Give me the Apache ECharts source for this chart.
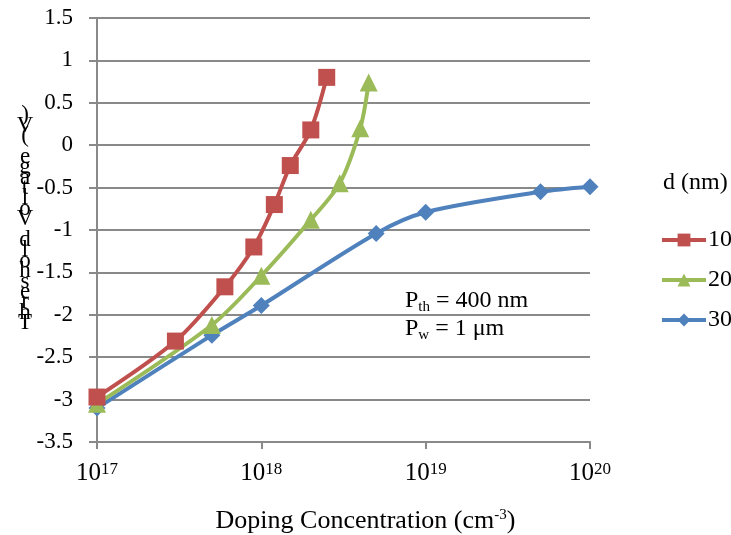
<!DOCTYPE html>
<html>
<head>
<meta charset="utf-8">
<script src="https://cdn.jsdelivr.net/npm/echarts@6/dist/echarts.min.js"></script>
<style>
html,body{margin:0;padding:0;background:#fff;}
#chart{width:731px;height:535px;}
</style>
</head>
<body>
<div id="chart"></div>
<script>
// Data (doping concentration in cm^-3, threshold voltage in V)
const seriesNames = ['10', '20', '30'];
const x10 = [1e17, 3e17, 6e17, 9e17, 1.2e18, 1.5e18, 2e18, 2.5e18];
const y10 = [-2.97, -2.31, -1.67, -1.20, -0.70, -0.24, 0.18, 0.80];
const x20 = [1e17, 5e17, 1e18, 2e18, 3e18, 4e18, 4.5e18];
const y20 = [-3.05, -2.12, -1.54, -0.88, -0.45, 0.20, 0.74];
const x30 = [1e17, 5e17, 1e18, 5e18, 1e19, 5e19, 1e20];
const y30 = [-3.10, -2.24, -1.89, -1.04, -0.79, -0.55, -0.49];
const yTicks = [-3.5, -3, -2.5, -2, -1.5, -1, -0.5, 0, 0.5, 1, 1.5];
const xTickExponents = [17, 18, 19, 20];
const yTitle = 'Threshold Voltage (V)';
const xTitle = 'Doping Concentration (cm';
const legendTitle = 'd (nm)';

const FONT = '"Liberation Serif", "Times New Roman", serif';
const GRAY = '#898989';
const colors = ['#C0504D', '#9BBB59', '#4F81BD'];
const symbols = ['rect', 'triangle', 'diamond'];
const symbolSizes = [17, 18, 17];

function pairs(xs, ys) { return xs.map((x, i) => [x, ys[i]]); }
const datasets = [pairs(x10, y10), pairs(x20, y20), pairs(x30, y30)];

const chart = echarts.init(document.getElementById('chart'), null, {renderer: 'canvas'});

const option = {
  animation: false,
  backgroundColor: '#fff',
  textStyle: {fontFamily: FONT, color: '#000'},
  grid: {left: 97, right: 141, top: 18, bottom: 93, containLabel: false},
  xAxis: {
    type: 'log', logBase: 10,
    min: Math.pow(10, xTickExponents[0]),
    max: Math.pow(10, xTickExponents[xTickExponents.length - 1]),
    axisLine: {show: true, onZero: false, lineStyle: {color: GRAY, width: 2}},
    axisTick: {show: true, length: 7, lineStyle: {color: GRAY, width: 2}},
    minorTick: {show: false},
    splitLine: {show: false},
    axisLabel: {
      margin: 19,
      formatter: function (v) {
        const e = Math.round(Math.log10(v));
        return '{b|10}{s|' + e + '}';
      },
      rich: {
        b: {fontFamily: FONT, fontSize: 25, lineHeight: 25, color: '#000'},
        s: {fontFamily: FONT, fontSize: 17, lineHeight: 17, verticalAlign: 'top', color: '#000'}
      }
    }
  },
  yAxis: {
    type: 'value', min: yTicks[0], max: yTicks[yTicks.length - 1], interval: 0.5,
    axisLine: {show: true, lineStyle: {color: GRAY, width: 2}},
    axisTick: {show: true, length: 8, lineStyle: {color: GRAY, width: 2}},
    splitLine: {show: true, lineStyle: {color: GRAY, width: 2}},
    axisLabel: {fontFamily: FONT, fontSize: 23, color: '#000', margin: 24}
  },
  legend: {
    orient: 'vertical',
    left: 655, top: 223,
    itemWidth: 44, itemHeight: 16, itemGap: 16,
    lineStyle: {width: 4},
    textStyle: {fontFamily: FONT, fontSize: 24, color: '#000', padding: [0, 0, 0, -3]},
    data: seriesNames
  },
  series: seriesNames.map((n, i) => ({
    name: n, type: 'line', data: datasets[i],
    smooth: 0.3,
    symbol: symbols[i],
    symbolSize: symbolSizes[i],
    itemStyle: {color: colors[i]},
    lineStyle: {color: colors[i], width: 4},
    z: 10 - i
  })),
  graphic: [
    {
      type: 'text', x: 25, y: 110,
      style: {
        text: yTitle.split('').reverse().join('\n'),
        font: '23px ' + FONT, fill: '#000', lineHeight: 10.4, align: 'center'
      }
    },
    {
      type: 'text', left: 'center', top: 508,
      style: {
        text: '{t|' + xTitle + '}{s|-3}{t|)}',
        rich: {
          t: {fontFamily: FONT, fontSize: 26, lineHeight: 26, fill: '#000'},
          s: {fontFamily: FONT, fontSize: 15, lineHeight: 15, verticalAlign: 'top', fill: '#000'}
        }
      }
    },
    {
      type: 'text', x: 663, y: 171,
      style: {text: legendTitle, font: '24px ' + FONT, fill: '#000'}
    },
    {
      type: 'group', x: 390, y: 285,
      children: [
        {type: 'rect', shape: {x: 0, y: 0, width: 183, height: 62}, style: {fill: '#fff'}},
        {
          type: 'text', x: 15, y: 2,
          style: {
            text: '{t|P}{u|th}{t| = 400 nm}\n{t|P}{u|w}{t| = 1 μm}',
            rich: {
              t: {fontFamily: FONT, fontSize: 24, lineHeight: 28, fill: '#000'},
              u: {fontFamily: FONT, fontSize: 15, lineHeight: 15, verticalAlign: 'bottom', fill: '#000'}
            }
          }
        }
      ]
    }
  ]
};
chart.setOption(option);
</script>
</body>
</html>
